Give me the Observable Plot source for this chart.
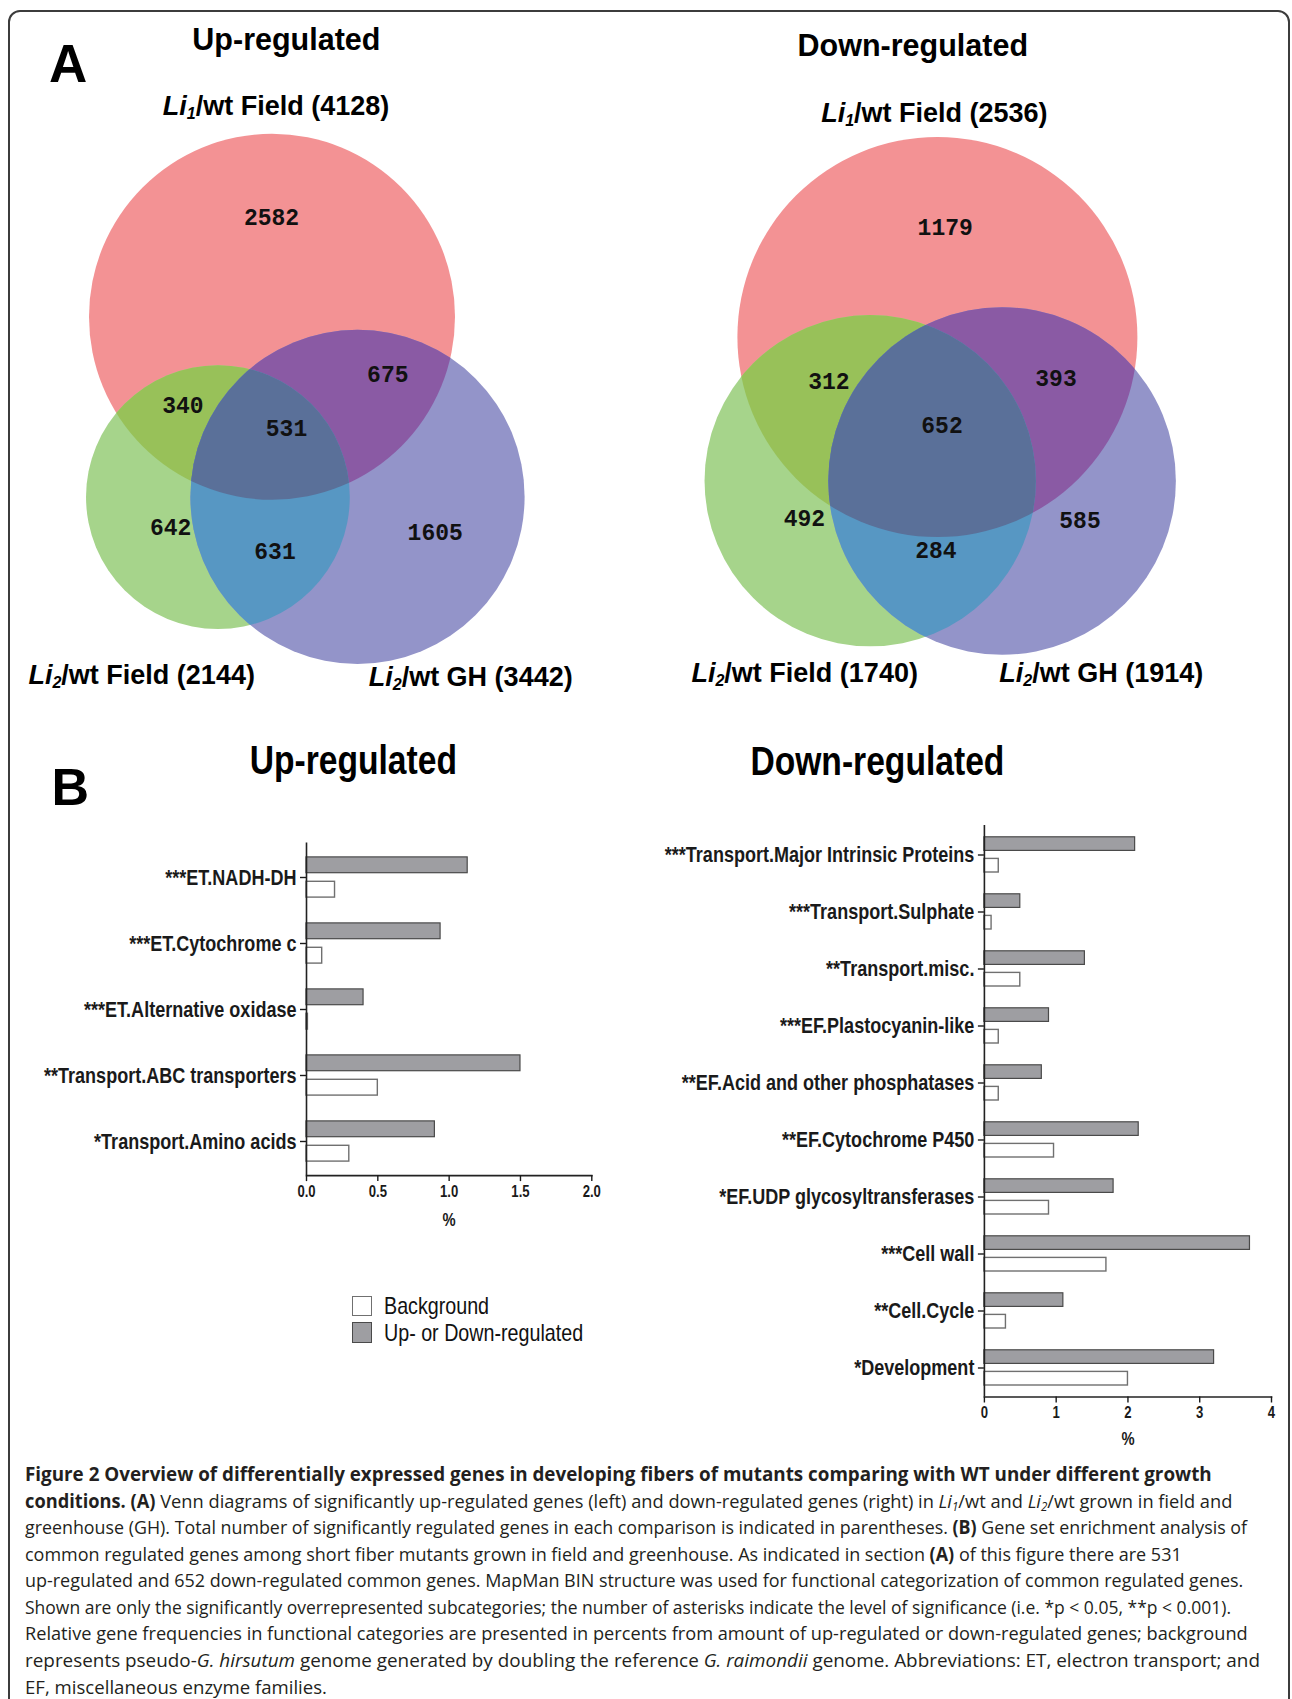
<!DOCTYPE html>
<html><head><meta charset="utf-8">
<script src="https://cdn.jsdelivr.net/npm/d3@7"></script>
<script src="https://cdn.jsdelivr.net/npm/@observablehq/plot@0.6"></script>
<style>
html,body{margin:0;padding:0;overflow:hidden;background:#fff;}
#page{position:relative;width:1292px;height:1699px;background:#fff;overflow:hidden;}
#border{position:absolute;left:8px;top:10px;width:1282px;height:1760px;border:2.5px solid #3c3c3c;border-radius:12px;box-sizing:border-box;}
.abs{position:absolute;}
.cap{position:absolute;left:25px;white-space:nowrap;font-family:"Open Sans","Noto Sans",sans-serif;font-size:19px;line-height:26px;height:26px;color:#231f20;transform-origin:0 50%;}
.cap sub{font-size:12px;line-height:0;vertical-align:-3px;font-style:italic;}
.leg{position:absolute;font-family:"Liberation Sans",Arial,sans-serif;font-size:24px;line-height:24px;color:#111;white-space:nowrap;transform:scaleX(0.82);transform-origin:0 50%;}
.sw{position:absolute;width:20.5px;height:20.5px;box-sizing:border-box;}
</style></head><body><div id="page"><div id="border"></div></div>
<script>
// ---------- DATA ----------
const vennTitles = ["Up-regulated", "Down-regulated"];
const setMutants = ["1", "2", "2"];
const setConditions = ["Field", "Field", "GH"];
const upTotals = [4128, 2144, 3442];
const downTotals = [2536, 1740, 1914];
const regionKeys = ["R", "RG", "RB", "RGB", "G", "GB", "B"];
const upRegionCounts = [2582, 340, 675, 531, 642, 631, 1605];
const downRegionCounts = [1179, 312, 393, 652, 492, 284, 585];

const barTitles = ["Up-regulated", "Down-regulated"];
const upCategories = ["***ET.NADH-DH", "***ET.Cytochrome c", "***ET.Alternative oxidase", "**Transport.ABC transporters", "*Transport.Amino acids"];
const upRegulated = [1.13, 0.94, 0.40, 1.50, 0.90];
const upBackground = [0.20, 0.11, 0.01, 0.50, 0.30];
const upTicks = [0, 0.5, 1.0, 1.5, 2.0];
const downCategories = ["***Transport.Major Intrinsic Proteins", "***Transport.Sulphate", "**Transport.misc.", "***EF.Plastocyanin-like", "**EF.Acid and other phosphatases", "**EF.Cytochrome P450", "*EF.UDP glycosyltransferases", "***Cell wall", "**Cell.Cycle", "*Development"];
const downRegulated = [2.10, 0.50, 1.40, 0.90, 0.80, 2.15, 1.80, 3.70, 1.10, 3.20];
const downBackground = [0.20, 0.10, 0.50, 0.20, 0.20, 0.97, 0.90, 1.70, 0.30, 2.00];
const downTicks = [0, 1, 2, 3, 4];
const legendLabels = ["Background", "Up- or Down-regulated"];
const axisLabel = "%";

const captionLines = [
 "<b>Figure 2 Overview of differentially expressed genes in developing fibers of mutants comparing with WT under different growth</b>",
 "<b>conditions. (A)</b> Venn diagrams of significantly up-regulated genes (left) and down-regulated genes (right) in <i>Li</i><sub>1</sub>/wt and <i>Li</i><sub>2</sub>/wt grown in field and",
 "greenhouse (GH). Total number of significantly regulated genes in each comparison is indicated in parentheses. <b>(B)</b> Gene set enrichment analysis of",
 "common regulated genes among short fiber mutants grown in field and greenhouse. As indicated in section <b>(A)</b> of this figure there are 531",
 "up-regulated and 652 down-regulated common genes. MapMan BIN structure was used for functional categorization of common regulated genes.",
 "Shown are only the significantly overrepresented subcategories; the number of asterisks indicate the level of significance (i.e. *p &lt; 0.05, **p &lt; 0.001).",
 "Relative gene frequencies in functional categories are presented in percents from amount of up-regulated or down-regulated genes; background",
 "represents pseudo-<i>G. hirsutum</i> genome generated by doubling the reference <i>G. raimondii</i> genome. Abbreviations: ET, electron transport; and",
 "EF, miscellaneous enzyme families."
];

// ---------- LAYOUT / STYLE ----------
const vennColors = {R:"#f39294", G:"#a6d48b", B:"#9394c9", RG:"#98c159", RB:"#8a5aa4", GB:"#5797c3", RGB:"#5a7099"};
const vennLayout = [
 {left:0, maxR:183, centers:[[271.5,316.3],[217.4,496.6],[357,496.3]],
  labels:{R:[271,217],RG:[182.4,405.4],RB:[387.3,374.6],RGB:[286,428.4],G:[170.1,527],GB:[274.5,551],B:[434.7,531.7]},
  title:[286.4,49.6], setLabels:[[276,114.8],[141.7,684],[470.7,686]]},
 {left:646, maxR:200, centers:[[290.9,336.5],[223.7,480.2],[355.6,480.5]],
  labels:{R:[298.7,227.3],RG:[182.4,381.3],RB:[409.5,378],RGB:[295.5,424.8],G:[157.9,518.6],GB:[289.4,550],B:[433.5,520.2]},
  title:[912.8,56], setLabels:[[934.4,121.7],[804.7,681.8],[1101.3,681.8]]}
];
const boldSans = "'Liberation Sans', Arial, Helvetica, sans-serif";
const NARROW = 0.82; // Arial Narrow = Arial condensed horizontally
const grayFill = "#9e9ea2", grayStroke = "#4a4a4a", whiteStroke = "#707070";

const page = document.getElementById("page");

function condense(el, k) {
  const x = parseFloat(el.getAttribute("x")) || 0;
  const t = el.getAttribute("transform") || "";
  el.setAttribute("transform", `${t} translate(${x},0) scale(${k},1) translate(${-x},0)`);
}

// ---------- VENN (Plot) ----------
function venn(totals, counts, L, id) {
  const sets = setConditions.map((c, i) => ({total: totals[i], x: L.centers[i][0], y: L.centers[i][1], fill: vennColors[["R","G","B"][i]]}));
  const regions = regionKeys.map((k, i) => ({count: counts[i], x: L.labels[k][0], y: L.labels[k][1]}));
  const base = {x: "x", y: "y", r: "total", sort: null};
  const plot = Plot.plot({
    width: 646, height: 720, margin: 0,
    x: {domain: [0, 646], range: [0, 646], axis: null},
    y: {domain: [0, 720], range: [0, 720], axis: null},
    r: {type: "sqrt", domain: [0, totals[0]], range: [0, L.maxR]},
    color: {type: "identity"},
    style: {background: "transparent", overflow: "visible"},
    marks: [
      Plot.dot(sets, {...base, fill: "fill"}),
      Plot.dot([sets[1]], {...base, fill: vennColors.RG}),
      Plot.dot([sets[2]], {...base, fill: vennColors.RB}),
      Plot.dot([sets[2]], {...base, fill: vennColors.GB}),
      Plot.dot([sets[2]], {...base, fill: vennColors.RGB}),
      Plot.text(regions, {x: "x", y: "y", text: d => String(d.count), fontFamily: "'Liberation Mono', 'Courier New', monospace", fontWeight: "bold", fontSize: 23, fill: "#111"})
    ]
  });
  const svg = plot.tagName.toLowerCase() === "svg" ? plot : plot.querySelector("svg");
  const groups = svg.querySelectorAll('g[aria-label="dot"]');
  const circles = groups[0].querySelectorAll("circle");
  const defs = document.createElementNS("http://www.w3.org/2000/svg", "defs");
  ["R","G","B"].forEach((k, i) => {
    const cp = document.createElementNS("http://www.w3.org/2000/svg", "clipPath");
    cp.setAttribute("id", id + k);
    cp.appendChild(circles[i].cloneNode(true));
    defs.appendChild(cp);
  });
  svg.insertBefore(defs, svg.firstChild);
  groups[1].setAttribute("clip-path", `url(#${id}R)`);
  groups[2].setAttribute("clip-path", `url(#${id}R)`);
  groups[3].setAttribute("clip-path", `url(#${id}G)`);
  groups[4].setAttribute("clip-path", `url(#${id}R)`);
  groups[4].querySelector("circle").setAttribute("clip-path", `url(#${id}G)`);
  plot.style.position = "absolute";
  plot.style.left = L.left + "px";
  plot.style.top = "0px";
  page.appendChild(plot);
}
venn(upTotals, upRegionCounts, vennLayout[0], "vu");
venn(downTotals, downRegionCounts, vennLayout[1], "vd");

// ---------- BAR CHARTS (Plot) ----------
function bars(o) {
  const rows = o.cats.map((c, i) => ({c, reg: o.reg[i], bg: o.bg[i]}));
  const plot = Plot.plot({
    width: o.width, height: o.height,
    marginLeft: o.marginLeft, marginRight: o.marginRight, marginTop: o.marginTop, marginBottom: o.marginBottom,
    x: {domain: [0, o.ticks[o.ticks.length - 1]]},
    y: {domain: o.cats, padding: 0},
    style: {background: "transparent", overflow: "visible", color: "#1a1a1a", fontFamily: boldSans},
    marks: [
      Plot.barX(rows, {y: "c", x: "reg", fill: grayFill, stroke: grayStroke, strokeWidth: 1.2, insetTop: o.gIns[0], insetBottom: o.gIns[1]}),
      Plot.barX(rows, {y: "c", x: "bg", fill: "white", stroke: whiteStroke, strokeWidth: 1.4, insetTop: o.wIns[0], insetBottom: o.wIns[1]}),
      Plot.ruleX([0], {stroke: "#222", strokeWidth: 1.6}),
      Plot.frame({anchor: "bottom", stroke: "#222", strokeWidth: 1.6}),
      Plot.axisY({tickSize: 6, tickPadding: 4, fontSize: 22, fontWeight: "bold", fontFamily: boldSans, label: null, strokeWidth: 1.4}),
      Plot.axisX({ticks: o.ticks, tickFormat: o.fmt, tickSize: 6, tickPadding: 4, fontSize: 16, fontWeight: "bold", fontFamily: boldSans,
                  label: axisLabel, labelAnchor: "center", labelOffset: o.labelOffset, labelArrow: "none", strokeWidth: 1.4})
    ]
  });
  plot.querySelectorAll("text").forEach(t => condense(t, NARROW));
  plot.querySelectorAll('g[aria-label="x-axis label"] text').forEach(t => t.setAttribute("font-size", 18));
  plot.style.position = "absolute";
  plot.style.left = o.left + "px";
  plot.style.top = o.top + "px";
  page.appendChild(plot);
}
bars({cats: upCategories, reg: upRegulated, bg: upBackground, ticks: upTicks, fmt: d3.format(".1f"),
  left: 0, top: 800, width: 621.3, height: 445.1, marginLeft: 306, marginRight: 30, marginTop: 42.4, marginBottom: 70,
  gIns: [12.9, 37.3], wIns: [37.3, 12.9], labelOffset: 50});
bars({cats: downCategories, reg: downRegulated, bg: downBackground, ticks: downTicks, fmt: d3.format("d"),
  left: 646, top: 800, width: 646, height: 656.5, marginLeft: 337.9, marginRight: 21, marginTop: 25, marginBottom: 60,
  gIns: [10.8, 32.6], wIns: [32.4, 11.0], labelOffset: 48});

// ---------- TITLES / LABELS overlay ----------
const ov = d3.select(page).append("svg").attr("class", "abs").attr("width", 1292).attr("height", 1699)
  .style("left", "0px").style("top", "0px").style("pointer-events", "none");
function txt(x, y, s, size, anchor) {
  return ov.append("text").attr("x", x).attr("y", y).attr("text-anchor", anchor || "middle")
    .attr("font-family", boldSans).attr("font-weight", "bold").attr("font-size", size).attr("fill", "#000").text(s);
}
txt(49, 81.7, "A", 53, "start");
txt(51.5, 804.5, "B", 52, "start");
[upTotals, downTotals].forEach((tot, v) => {
  const L = vennLayout[v];
  txt(L.title[0], L.title[1], vennTitles[v], 30.5);
  tot.forEach((t, i) => {
    const [x, y] = L.setLabels[i];
    const tx = ov.append("text").attr("x", x).attr("y", y).attr("text-anchor", "middle")
      .attr("font-family", boldSans).attr("font-weight", "bold").attr("font-size", 27).attr("fill", "#000");
    tx.append("tspan").attr("font-style", "italic").text("Li");
    tx.append("tspan").attr("font-style", "italic").attr("font-size", 16).attr("dy", 4).text(setMutants[i]);
    tx.append("tspan").attr("dy", -4).text(`/wt ${setConditions[i]} (${t})`);
  });
});
condense(txt(353.3, 773.9, barTitles[0], 41).node(), NARROW);
condense(txt(877.4, 775, barTitles[1], 41).node(), NARROW);

// ---------- LEGEND ----------
const legTop = [1295.5, 1322];
legendLabels.forEach((lab, i) => {
  const sw = document.createElement("div");
  sw.className = "sw";
  sw.style.left = "351.5px"; sw.style.top = legTop[i] + "px";
  sw.style.background = i === 0 ? "#fff" : grayFill;
  sw.style.border = "1.4px solid " + (i === 0 ? whiteStroke : grayStroke);
  page.appendChild(sw);
  const t = document.createElement("div");
  t.className = "leg"; t.textContent = lab;
  t.style.left = "384.4px"; t.style.top = (legTop[i] - 1.5) + "px";
  page.appendChild(t);
});

// ---------- CAPTION ----------
const capCenters = [1474, 1501, 1527, 1553.5, 1580, 1606.5, 1633, 1659.5, 1686.5];
const capRight = [1211.7, 1232.3, 1247, 1181.7, 1243.3, 1231, 1247.7, 1260, 327];
captionLines.forEach((html, i) => {
  const d = document.createElement("div");
  d.className = "cap"; d.innerHTML = html;
  d.style.top = (capCenters[i] - 13) + "px";
  page.appendChild(d);
  const w = d.getBoundingClientRect().width;
  d.style.transform = `scaleX(${(capRight[i] - 25) / w})`;
});
</script></body></html>
